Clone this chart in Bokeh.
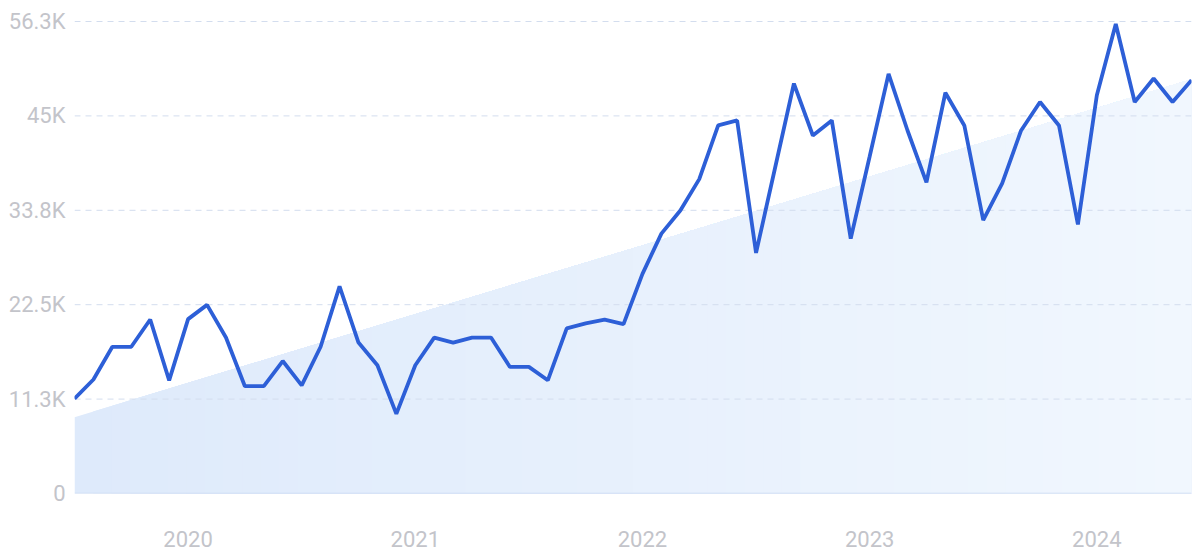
import pandas as pd
from bokeh.plotting import figure
from bokeh.models import FixedTicker, Range1d
from bokeh.embed import file_html
from bokeh.resources import INLINE

# ---- data ----
months = [d.strftime("%Y-%m") for d in pd.date_range("2019-07-01", "2024-06-01", freq="MS")]
values_k = [11.3, 13.6, 17.5, 17.5, 20.75, 13.5, 20.8, 22.5, 18.6, 12.8,
            12.8, 15.8, 12.9, 17.5, 24.7, 18.0, 15.3, 9.5, 15.3, 18.6,
            18.0, 18.6, 18.6, 15.1, 15.1, 13.5, 19.7, 20.3, 20.75, 20.2,
            26.2, 31.0, 33.75, 37.5, 43.9, 44.5, 28.7, 38.8, 48.9, 42.7,
            44.5, 30.4, 40.2, 50.05, 43.3, 37.1, 47.8, 43.9, 32.6, 37.0,
            43.3, 46.7, 43.9, 32.1, 47.5, 56.0, 46.7, 49.5, 46.7, 49.3]
values = [v * 1000 for v in values_k]
trend_start = 9100
trend_end = 49400
years = ["2020", "2021", "2022", "2023", "2024"]
y_ticks = [0, 11260, 22520, 33780, 45040, 56300]
y_labels = ["0", "11.3K", "22.5K", "33.8K", "45K", "56.3K"]

x = list(range(len(months)))
x0, x1 = x[0], x[-1]

FONT = "Roboto"
TXT = "#c3c4ca"

p = figure(frame_width=1117, frame_height=485, output_backend="svg",
           toolbar_location=None, x_range=Range1d(x0, x1),
           y_range=Range1d(0, 57850),
           min_border_left=74, min_border_right=9, min_border_top=8,
           min_border_bottom=58, outline_line_color=None,
           background_fill_color="white", border_fill_color="white")

# gradient-like trend area, built from slices
def trend(xx):
    return trend_start + (trend_end - trend_start) * (xx - x0) / (x1 - x0)

n = 60
c_left = (222, 234, 251)
c_right = (241, 247, 254)
for i in range(n):
    a = x0 + (x1 - x0) * i / n
    f = i / (n - 1)
    col = tuple(int(round(c_left[k] + (c_right[k] - c_left[k]) * f)) for k in range(3))
    p.patch([a, x1, x1, a], [0, 0, trend(x1), trend(a)],
            fill_color="#%02x%02x%02x" % col, line_color=None)

# grid lines (dashed) above fill
grid_ticks = y_ticks[1:]
p.segment(x0=[x0] * len(grid_ticks), y0=grid_ticks, x1=[x1] * len(grid_ticks),
          y1=grid_ticks, line_color="#d3ddee", line_width=1, line_dash="6 5")
# baseline
p.segment(x0=[x0], y0=[0], x1=[x1], y1=[0], line_color="#cbdaf2", line_width=1.5)

p.line(x, values, line_color="#2d5fd7", line_width=3.8)

p.xgrid.visible = False
p.ygrid.visible = False

# axes
p.xaxis.ticker = FixedTicker(ticks=[months.index(f"{y}-01") for y in years])
p.xaxis.major_label_overrides = {months.index(f"{y}-01"): y for y in years}
p.xaxis.axis_line_color = None
p.xaxis.major_tick_line_color = None
p.xaxis.minor_tick_line_color = None
p.xaxis.major_tick_out = 0
p.xaxis.major_label_standoff = 37
p.xaxis.major_label_text_font = FONT
p.xaxis.major_label_text_font_size = "22px"
p.xaxis.major_label_text_color = TXT

p.yaxis.ticker = FixedTicker(ticks=y_ticks)
p.yaxis.major_label_overrides = dict(zip(y_ticks, y_labels))
p.yaxis.axis_line_color = None
p.yaxis.major_tick_line_color = None
p.yaxis.minor_tick_line_color = None
p.yaxis.major_tick_out = 0
p.yaxis.major_label_standoff = 9
p.yaxis.major_label_text_font = FONT
p.yaxis.major_label_text_font_size = "22px"
p.yaxis.major_label_text_color = TXT

open("out.html", "w").write(file_html(p, INLINE))
